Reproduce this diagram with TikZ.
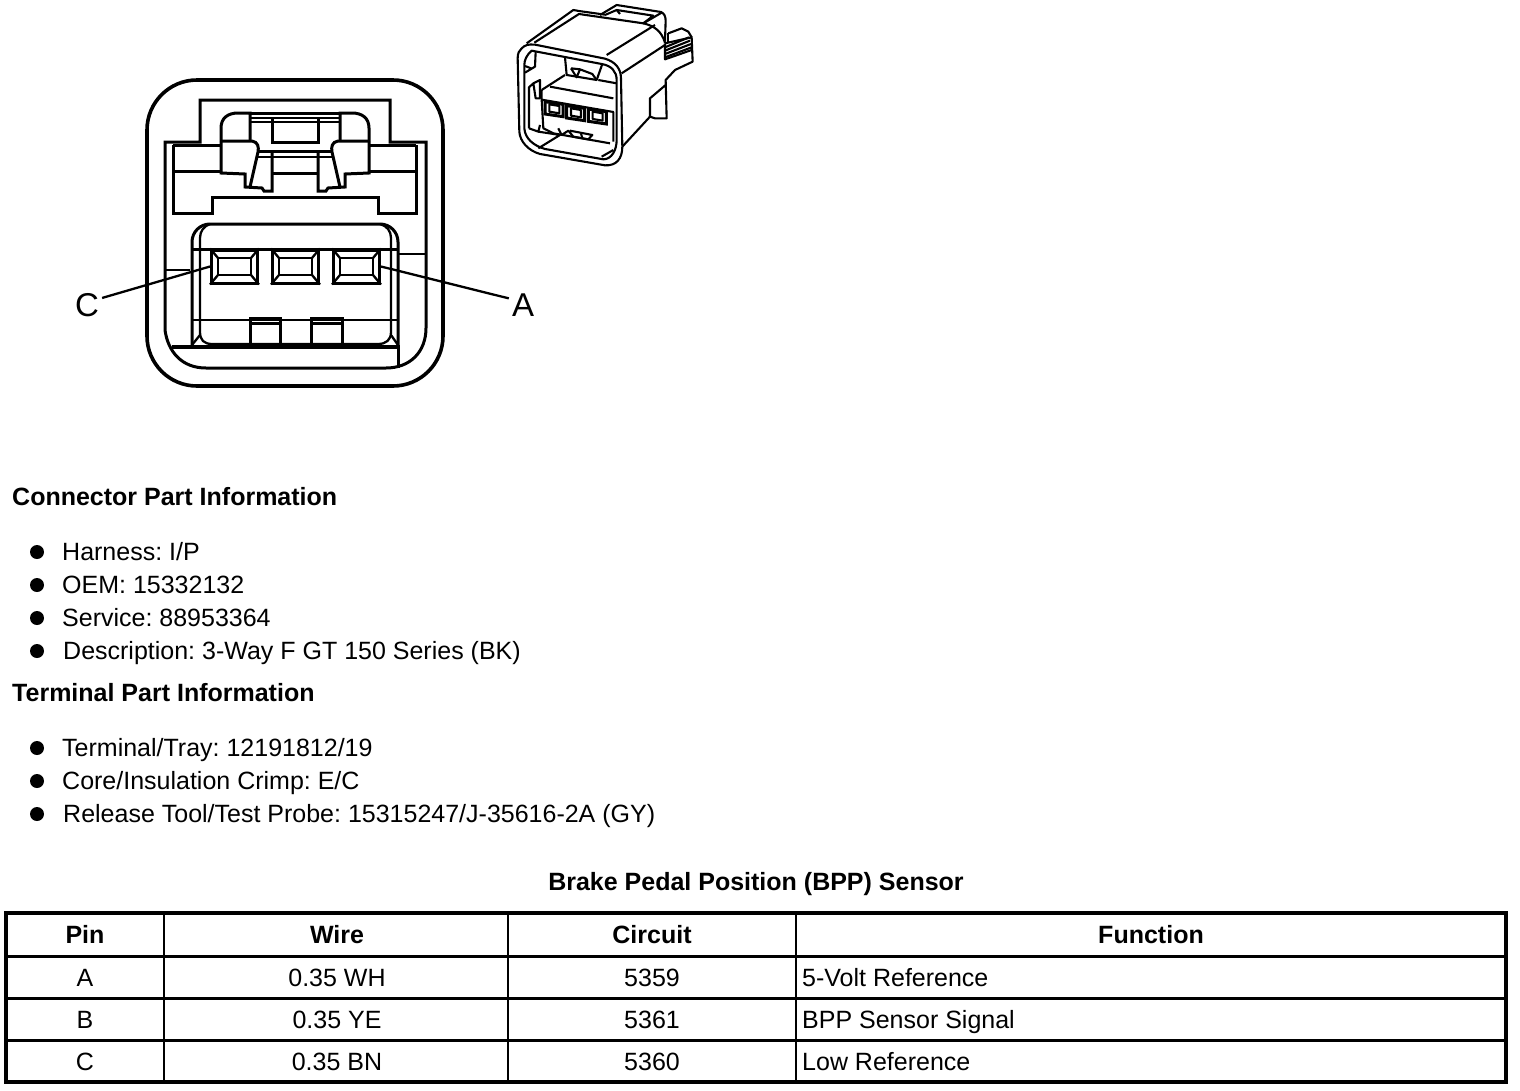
\documentclass[tikz,border=0pt]{standalone}
\usepackage{fontspec}
\setmainfont{Liberation Sans}
\begin{document}
\frenchspacing
\begin{tikzpicture}[x=1pt,y=-1pt,line join=miter,
  ln/.style={draw=black,line width=3pt},
  thin ln/.style={draw=black,line width=2.3pt},
  sk/.style={draw=black,line width=2.1pt,line join=round},
  body/.style={font=\fontsize{25}{30}\selectfont,anchor=base west,inner sep=0pt},
  head/.style={font=\fontsize{25}{30}\selectfont\bfseries,anchor=base west,inner sep=0pt},
  cell/.style={font=\fontsize{25}{30}\selectfont,anchor=base,inner sep=0pt},
  hcell/.style={font=\fontsize{25}{30}\selectfont\bfseries,anchor=base,inner sep=0pt},
  callout/.style={font=\fontsize{33}{36}\selectfont,inner sep=3pt},
  dot/.style={circle,fill=black,draw=none,minimum size=14pt,inner sep=0pt},
  term/.style={draw=black,line width=3pt,minimum width=46pt,minimum height=33pt,inner sep=0pt}]
\useasboundingbox (0,0) rectangle (1520,1090);
% outer shell
\draw[line width=3.6pt,rounded corners=50pt] (147,80) rectangle (443,386);
% inner shell
\draw[ln] (165,330) -- (165,142) -- (200,142) -- (200,100) -- (390,100) -- (390,142) -- (426,142) -- (426,328) .. controls (426,352) and (410,368) .. (386,368) -- (206,368) .. controls (182,368) and (168,352) .. (165,330);
\draw[ln] (173,145) -- (173,213) -- (212,213) -- (212,197) -- (378,197) -- (378,213) -- (416,213) -- (416,145);
\draw[ln] (173,145) -- (221,145) (369,145) -- (416,145);
\draw[ln] (173,171) -- (221,171) (369,171) -- (416,171);
% latches
\draw[ln] (250,113) -- (340,113);
\draw[thin ln] (250,118) -- (340,118) (250,122) -- (340,122);
\draw[ln] (272,118) -- (272,142) -- (318,142) -- (318,118);
\draw[ln] (258,151) -- (332,151);
\draw[thin ln] (258,157) -- (332,157);
\draw[ln] (272,173) -- (318,173);
\foreach \tf in {{shift={(0,0)}},{shift={(590,0)},xscale=-1}}{
\begin{scope}[style/.expanded=\tf]
\draw[ln] (221,141) -- (221,128) .. controls (221,118) and (228,113) .. (238,113) -- (250,113) -- (250,141);
\draw[ln] (221,141) -- (252,141) .. controls (258,142) and (259,147) .. (258,152) -- (250,187);
\draw[ln] (221,141) -- (221,173) -- (245,174) -- (245,187) -- (262,188) -- (264,191) -- (272,191) -- (272,150);
\end{scope}}
% plug
\draw[ln] (192,345) -- (192,242) .. controls (192,232) and (200,224) .. (210,224) -- (380,224) .. controls (390,224) and (398,232) .. (398,242) -- (398,345);
\draw[thin ln] (200,249) -- (200,332) .. controls (200,340) and (204,344) .. (212,344) -- (378,344) .. controls (386,344) and (391,340) .. (391,332) -- (391,249);
\draw[thin ln] (200,249) -- (200,238) .. controls (200,231) and (204,226) .. (210,224) (391,249) -- (391,238) .. controls (391,231) and (387,226) .. (380,224);
\draw[ln] (192,249) -- (398,249);
\draw[thin ln] (192,320) -- (398,320);
\draw[ln] (250,345) -- (250,318) -- (280,318) -- (280,345) (250,323) -- (280,323);
\draw[ln] (311,345) -- (311,318) -- (342,318) -- (342,345) (311,323) -- (342,323);
\draw[line width=3.2pt] (172,347) -- (398,347);
\draw[ln] (398,345) -- (398,368);
\draw[thin ln] (165,270) -- (190,270) (398,254) -- (426,254);
\draw[thin ln] (192,345) -- (200,335) (398,345) -- (391,335);
% terminals
\node[term] (tc) at (234.5,266.5) {};
\node[term] (tb) at (295.5,266.5) {};
\node[term] (ta) at (356.5,266.5) {};
\foreach \n in {tc,tb,ta}{
\draw[thin ln] ([shift={(-16.5,-8.5)}]\n.center) rectangle ([shift={(16.5,8.5)}]\n.center);
\draw[thin ln] ([shift={(-16.5,-8.5)}]\n.center) -- (\n.north west) ([shift={(16.5,-8.5)}]\n.center) -- (\n.north east) ([shift={(-16.5,8.5)}]\n.center) -- (\n.south west) ([shift={(16.5,8.5)}]\n.center) -- (\n.south east);
}
% callouts
\node[callout] (lc) at (87,305) {C};
\node[callout] (la) at (523,305) {A};
\draw[thin ln] (tc.west) -- (lc.25);
\draw[thin ln] (ta.east) -- (la.155);
% perspective sketch
\begin{scope}[shift={(505,0)},x=0.3333pt,y=-0.3333pt]
\draw[sk] (50,145) .. controls (60,135) and (70,132) .. (90,134) -- (300,176) .. controls (330,185) and (348,205) .. (348,235) -- (352,440) .. controls (352,475) and (335,498) .. (300,496) -- (105,462) .. controls (70,452) and (45,425) .. (43,395) -- (38,175) .. controls (38,160) and (42,152) .. (50,145);
\draw[sk] (58,195) .. controls (58,180) and (65,165) .. (80,152) -- (290,192) .. controls (320,197) and (335,215) .. (335,240) -- (335,420) .. controls (335,450) and (320,478) .. (295,478) -- (120,447) .. controls (85,437) and (60,415) .. (58,385) -- cycle;
% top face
\draw[sk] (65,130) -- (205,30) -- (222,33) -- (300,44);
\draw[sk] (88,128) -- (222,42) -- (415,70) -- (470,38);
\draw[sk] (285,45) -- (335,15) -- (468,36) .. controls (478,40) and (482,50) .. (482,62) -- (480,125);
\draw[sk] (300,45) -- (335,30) -- (445,47) -- (415,70);
\draw[sk] (335,30) -- (345,42);
\draw[sk] (415,70) .. controls (450,78) and (470,95) .. (480,128);
\draw[sk] (450,75) -- (305,165);
% side face
\draw[sk] (350,220) -- (480,135);
\draw[sk] (480,130) -- (560,112) -- (563,185) -- (510,210) -- (482,240) -- (485,355) -- (450,355) -- (435,350) -- (435,295) -- (482,255);
\draw[sk] (435,350) -- (352,440);
\draw[sk] (290,470) -- (325,450);
\draw[sk] (490,100) -- (530,85) -- (550,95) -- (560,112);
\draw[sk] (480,130) -- (480,178) -- (560,150);
\draw[sk] (480,142) -- (552,112) (480,152) -- (555,122) (480,162) -- (558,132) (480,172) -- (560,142);
\draw[sk] (490,100) -- (490,125);
% interior
\draw[sk] (92,155) -- (90,200) -- (60,218) (60,198) -- (78,205) (180,172) -- (185,225) -- (275,240) -- (292,192);
\draw[sk] (198,205) -- (215,232) -- (225,208) -- (262,222) -- (275,240) (198,205) -- (225,208);
\draw[sk] (110,270) -- (180,225) (280,240) -- (335,250);
\draw[sk] (135,260) -- (325,295) (110,299) -- (325,336) -- (325,425);
\draw[sk] (110,270) -- (110,299) -- (115,385) -- (145,400) -- (315,430);
\draw[sk] (85,250) -- (72,262) -- (72,385) (85,250) -- (105,240) -- (105,295) -- (92,295) -- (85,250) (72,385) -- (100,395) -- (105,375);
\draw[sk] (100,395) -- (165,405) -- (100,445);
\draw[sk] (160,385) -- (170,405) -- (190,392) -- (205,410) -- (250,418) -- (262,405) -- (195,392);
\draw[sk] (228,400) -- (232,415);
\foreach \xx/\yy in {120/305,185/317,250/327}{
\draw[line width=3pt] (\xx,\yy) -- ++(54,8) -- ++(0,37) -- ++(-54,-8) -- cycle;
\draw[sk] (\xx+13,\yy+8) -- ++(30,5) -- ++(0,22) -- ++(-30,-5) -- cycle;
}
\end{scope}
% text
\node[head] (h1) at (12,505) {Connector Part Information};
\node[head] (h2) at (12,701) {Terminal Part Information};
\node[dot] (d1) at (37,552) {};
\node[dot] (d2) at (37,585) {};
\node[dot] (d3) at (37,618) {};
\node[dot] (d4) at (37,651) {};
\node[dot] (d5) at (37,748) {};
\node[dot] (d6) at (37,781) {};
\node[dot] (d7) at (37,814) {};
\node[body] (b1) at (62,560) {Harness: I/P};
\node[body] (b2) at (62,593) {OEM: 15332132};
\node[body] (b3) at (62,626) {Service: 88953364};
\node[body] (b4) at (63,659) {Description: 3-Way F GT 150 Series (BK)};
\node[body] (b5) at (62,756) {Terminal/Tray: 12191812/19};
\node[body] (b6) at (62,789) {Core/Insulation Crimp: E/C};
\node[body] (b7) at (63,822) {Release Tool/Test Probe: 15315247/J-35616-2A (GY)};
\node[hcell] (title) at (756,890) {Brake Pedal Position (BPP) Sensor};
% table
\draw[line width=3.4pt] (6,913) rectangle (1506,1082);
\draw[ln] (6,956) -- (1506,956) (6,998) -- (1506,998) (6,1040) -- (1506,1040);
\draw[thin ln] (164,913) -- (164,1082) (508,913) -- (508,1082) (796,913) -- (796,1082);
\node[hcell] at (85,943) {Pin};
\node[hcell] at (337,943) {Wire};
\node[hcell] at (652,943) {Circuit};
\node[hcell] at (1151,943) {Function};
\node[cell] at (85,986) {A};
\node[cell] at (337,986) {0.35 WH};
\node[cell] at (652,986) {5359};
\node[body] at (802,986) {5-Volt Reference};
\node[cell] at (85,1028) {B};
\node[cell] at (337,1028) {0.35 YE};
\node[cell] at (652,1028) {5361};
\node[body] at (802,1028) {BPP Sensor Signal};
\node[cell] at (85,1070) {C};
\node[cell] at (337,1070) {0.35 BN};
\node[cell] at (652,1070) {5360};
\node[body] at (802,1070) {Low Reference};
\end{tikzpicture}
\end{document}
